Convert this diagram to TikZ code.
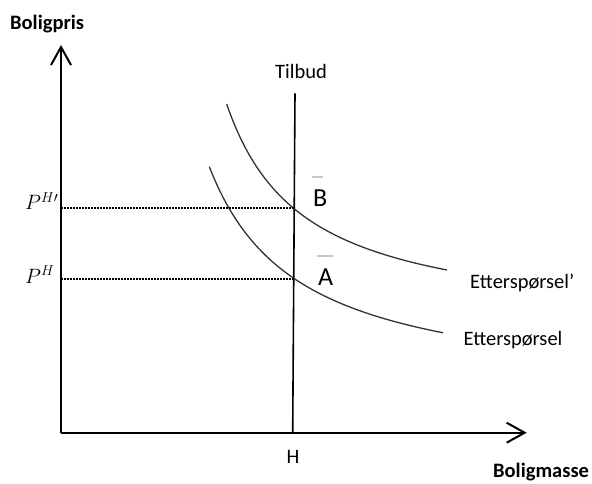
\documentclass[tikz,border=0pt]{standalone}
\usepackage{fontspec}
\setmainfont{Carlito}
\usetikzlibrary{arrows.meta}
\begin{document}
\begin{tikzpicture}[x=1pt,y=1pt,
  lbl/.style={inner sep=0pt,font=\fontsize{20.5}{24}\selectfont},
  bold/.style={lbl,font=\fontsize{20.5}{24}\selectfont\bfseries},
  pt/.style={inner sep=0pt,font=\fontsize{26}{30}\selectfont},
  axis/.style={line width=2pt,-{Straight Barb[length=18pt,width=20pt,line width=2pt]}},
  curve/.style={line width=1.3pt,black!80},
  dots/.style={line width=1.7pt,dash pattern=on 1.5pt off 1.5pt},
  faint/.style={line width=1.6pt,gray!45}]
\useasboundingbox (0,0) rectangle (592,483);
% axes
\coordinate (O) at (61,50.3);
\coordinate (ytip) at (61,438);
\coordinate (xtip) at (526.7,50.3);
\draw[axis] (O) -- (ytip);
\draw[axis] (O) -- (xtip);
% supply
\coordinate (st) at (295,389.7);
\coordinate (sb) at (292.7,50.3);
\draw[line width=1.6pt] (st) -- (sb);
% demand curves
\draw[curve] plot[domain=226.7:447,samples=80,smooth] (\x,{155.2+171.66/((\x-150)/100)});
\draw[curve] plot[domain=209.3:443,samples=80,smooth] (\x,{86.8+204.94/((\x-120)/100)});
% dotted levels
\coordinate (pu) at (61,275);
\coordinate (qu) at (294.2,275);
\coordinate (pl) at (61,204);
\coordinate (ql) at (293.7,204);
\draw[dots] (pu) -- (qu);
\draw[dots] (pl) -- (ql);
% faint marks
\coordinate (fb1) at (312,306.3);
\coordinate (fb2) at (323,306.3);
\coordinate (fa1) at (317,227);
\coordinate (fa2) at (333,227);
\draw[faint] (fb1) -- (fb2);
\draw[faint] (fa1) -- (fa2);
% labels
\node[bold,anchor=base west] (yl) at (10,453) {Boligpris};
\node[bold,anchor=base west] (xl) at (493,5.5) {Boligmasse};
\node[lbl,anchor=base] (tl) at (301,404.7) {Tilbud};
\node[lbl,anchor=base] (hl) at (293,20) {H};
\node[lbl,anchor=base west] (e2) at (470,195) {Etterspørsel’};
\node[lbl,anchor=base west] (e1) at (463.3,138) {Etterspørsel};
\node[pt,anchor=base west] (B) at (313,276.3) {B};
\node[pt,anchor=base west] (A) at (318,198) {A};
\node[inner sep=0pt,anchor=base west,font=\fontsize{21}{24}\selectfont] (ph2) at (25,273) {$P^{H\prime}$};
\node[inner sep=0pt,anchor=base west,font=\fontsize{21}{24}\selectfont] (ph1) at (25,200) {$P^{H}$};
\end{tikzpicture}
\end{document}
